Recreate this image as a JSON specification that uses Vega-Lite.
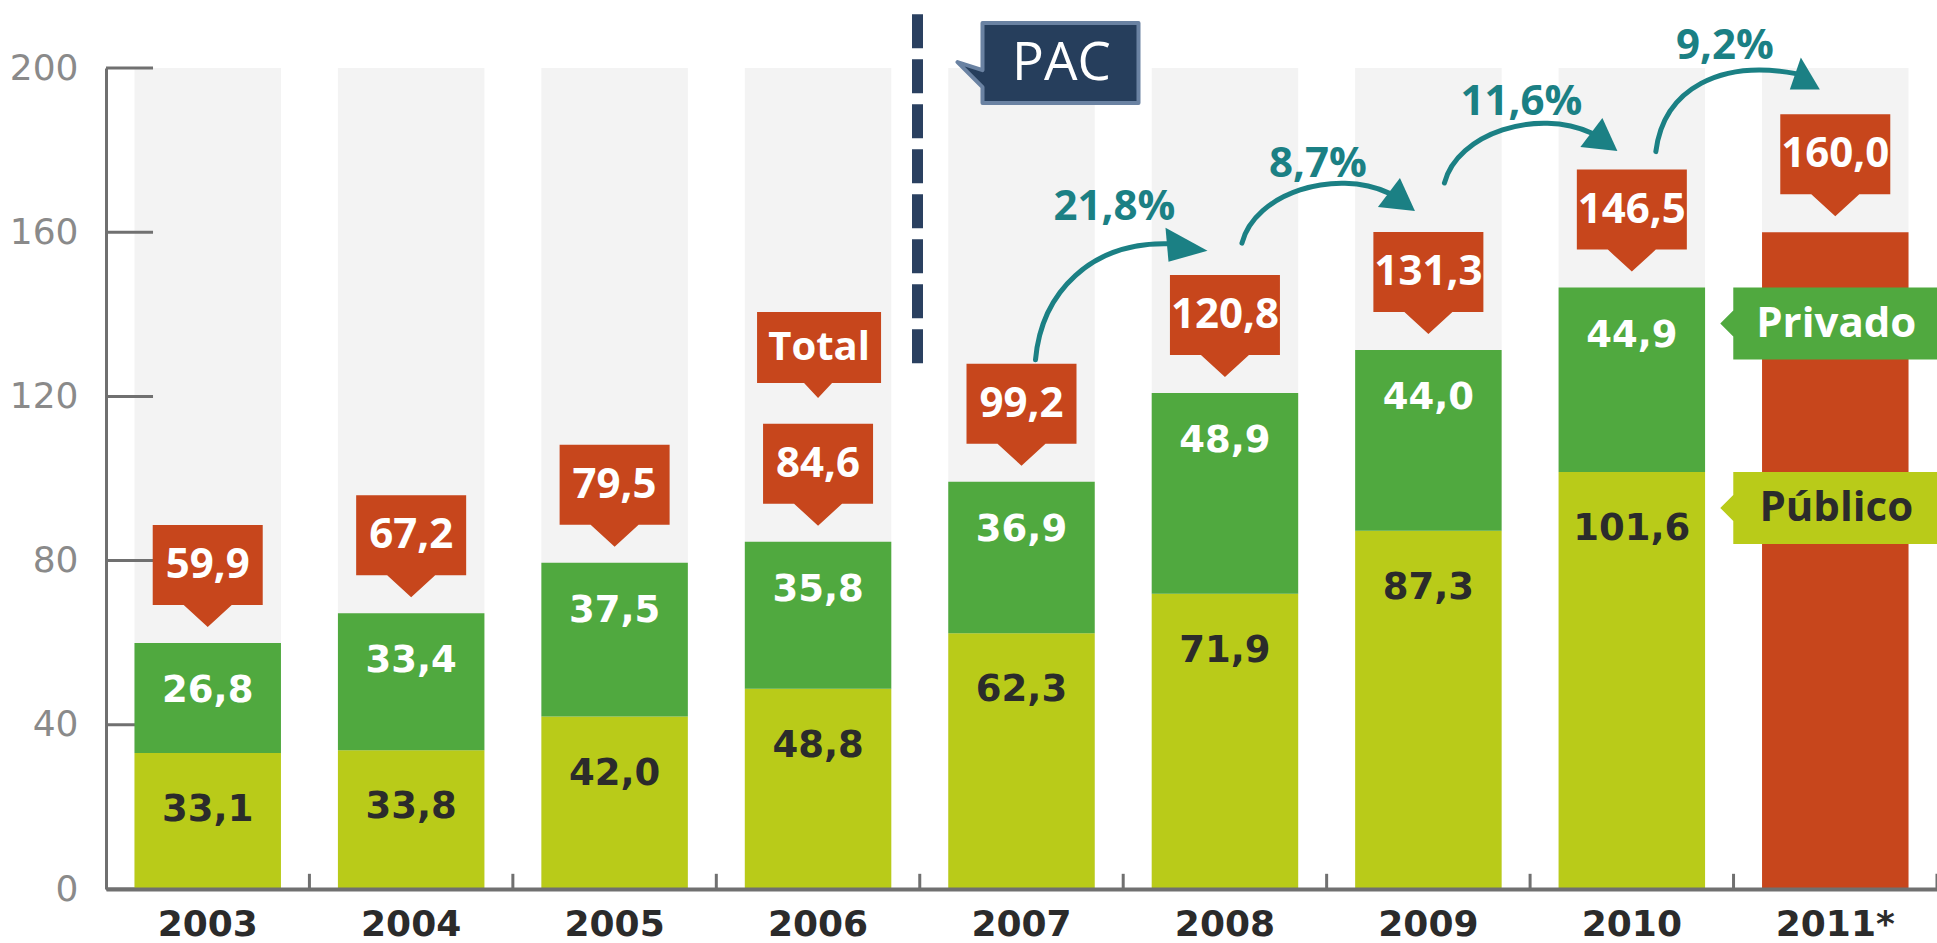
{
  "$schema": "https://vega.github.io/schema/vega-lite/v6.json",
  "width": 1831,
  "height": 821,
  "autosize": {"type": "none"},
  "padding": {"left": 106, "top": 68, "right": 0, "bottom": 54},
  "background": "#ffffff",
  "config": {
    "view": {"stroke": null},
    "locale": {"number": {"decimal": ",", "thousands": ".", "grouping": [3], "currency": ["", ""]}},
    "axis": {"grid": false, "title": null}
  },
  "datasets": {
    "segments": [
      {"year": "2003", "series": "Público", "value": 33.1},
      {"year": "2003", "series": "Privado", "value": 26.8},
      {"year": "2004", "series": "Público", "value": 33.8},
      {"year": "2004", "series": "Privado", "value": 33.4},
      {"year": "2005", "series": "Público", "value": 42.0},
      {"year": "2005", "series": "Privado", "value": 37.5},
      {"year": "2006", "series": "Público", "value": 48.8},
      {"year": "2006", "series": "Privado", "value": 35.8},
      {"year": "2007", "series": "Público", "value": 62.3},
      {"year": "2007", "series": "Privado", "value": 36.9},
      {"year": "2008", "series": "Público", "value": 71.9},
      {"year": "2008", "series": "Privado", "value": 48.9},
      {"year": "2009", "series": "Público", "value": 87.3},
      {"year": "2009", "series": "Privado", "value": 44.0},
      {"year": "2010", "series": "Público", "value": 101.6},
      {"year": "2010", "series": "Privado", "value": 44.9},
      {"year": "2011*", "series": "Total", "value": 160.0}
    ],
    "totals": [
      {"year": "2003", "total": 59.9},
      {"year": "2004", "total": 67.2},
      {"year": "2005", "total": 79.5},
      {"year": "2006", "total": 84.6},
      {"year": "2007", "total": 99.2},
      {"year": "2008", "total": 120.8},
      {"year": "2009", "total": 131.3},
      {"year": "2010", "total": 146.5},
      {"year": "2011*", "total": 160.0}
    ],
    "arrows": [
      {"from": "2007", "to": "2008", "fromTotal": 99.2, "toTotal": 120.8, "growth": 0.218},
      {"from": "2008", "to": "2009", "fromTotal": 120.8, "toTotal": 131.3, "growth": 0.087},
      {"from": "2009", "to": "2010", "fromTotal": 131.3, "toTotal": 146.5, "growth": 0.116},
      {"from": "2010", "to": "2011*", "fromTotal": 146.5, "toTotal": 160.0, "growth": 0.092}
    ],
    "notes": [
      {"label": "Total", "year": "2006", "level": 119.6},
      {"label": "PAC", "year": "2007", "level": 201.2}
    ],
    "divider": [
      {"year": "2007", "bottom": 128.1, "top": 213.6}
    ],
    "yticks": [
      {"tick": 0}, {"tick": 40}, {"tick": 80}, {"tick": 120}, {"tick": 160}, {"tick": 200}
    ]
  },
  "resolve": {"scale": {"shape": "independent"}},
  "layer": [
    {
      "data": {"name": "totals"},
      "mark": {"type": "bar", "color": "#f3f3f3"},
      "encoding": {
        "x": {
          "field": "year", "type": "nominal", "title": null,
          "scale": {"domain": ["2003", "2004", "2005", "2006", "2007", "2008", "2009", "2010", "2011*"], "paddingInner": 0.28, "paddingOuter": 0.14},
          "axis": {"zindex": 1, "ticks": false, "domainColor": "#707070", "domainWidth": 4, "labelFont": "DejaVu Sans", "labelFontWeight": "bold", "labelFontSize": 36, "labelColor": "#2b2b2b", "labelPadding": 35, "labelBaseline": "middle", "labelAngle": 0, "labelOverlap": false}
        },
        "y": {
          "datum": 200, "type": "quantitative", "title": null,
          "scale": {"domain": [0, 200], "nice": false, "zero": true},
          "axis": {"values": [0, 40, 80, 120, 160, 200], "ticks": false, "domainColor": "#707070", "domainWidth": 3, "labelFont": "DejaVu Sans", "labelFontSize": 36, "labelColor": "#8a8a8a", "labelPadding": 28}
        },
        "y2": {"datum": 0}
      }
    },
    {
      "data": {"name": "yticks"},
      "mark": {"type": "rule", "color": "#707070", "strokeWidth": 3, "xOffset": -101.7, "x2Offset": -54.7},
      "encoding": {
        "x": {"datum": "2003", "type": "nominal"},
        "x2": {"datum": "2003"},
        "y": {"field": "tick", "type": "quantitative"}
      }
    },
    {
      "data": {"name": "totals"},
      "mark": {"type": "rule", "color": "#707070", "strokeWidth": 3, "xOffset": 101.7},
      "encoding": {
        "x": {"field": "year", "type": "nominal"},
        "y": {"datum": 0, "type": "quantitative"},
        "y2": {"datum": 3.7}
      }
    },
    {
      "data": {"name": "segments"},
      "transform": [{"stack": "value", "groupby": ["year"], "sort": [{"field": "series", "order": "descending"}], "as": ["v0", "v1"]}],
      "mark": {"type": "bar"},
      "encoding": {
        "x": {"field": "year", "type": "nominal"},
        "y": {"field": "v1", "type": "quantitative"},
        "y2": {"field": "v0"},
        "color": {"field": "series", "type": "nominal", "scale": {"domain": ["Público", "Privado", "Total"], "range": ["#b9cb19", "#50a93f", "#c7461c"]}, "legend": null}
      }
    },
    {
      "data": {"name": "segments"},
      "transform": [
        {"stack": "value", "groupby": ["year"], "sort": [{"field": "series", "order": "descending"}], "as": ["v0", "v1"]},
        {"filter": "datum.series === 'Público'"}
      ],
      "mark": {"type": "text", "font": "DejaVu Sans", "fontWeight": "bold", "fontSize": 37, "baseline": "middle", "align": "center", "dy": 57, "color": "#2b2b2b"},
      "encoding": {
        "x": {"field": "year", "type": "nominal"},
        "y": {"field": "v1", "type": "quantitative"},
        "text": {"field": "value", "type": "quantitative", "format": ".1f"}
      }
    },
    {
      "data": {"name": "segments"},
      "transform": [
        {"stack": "value", "groupby": ["year"], "sort": [{"field": "series", "order": "descending"}], "as": ["v0", "v1"]},
        {"filter": "datum.series === 'Privado'"}
      ],
      "mark": {"type": "text", "font": "DejaVu Sans", "fontWeight": "bold", "fontSize": 37, "baseline": "middle", "align": "center", "dy": 48, "color": "#ffffff"},
      "encoding": {
        "x": {"field": "year", "type": "nominal"},
        "y": {"field": "v1", "type": "quantitative"},
        "text": {"field": "value", "type": "quantitative", "format": ".1f"}
      }
    },
    {
      "data": {"name": "totals"},
      "mark": {"type": "point", "shape": "M0,-16 L24,-38 L55,-38 L55,-118 L-55,-118 L-55,-38 L-24,-38 Z", "size": 4, "filled": true, "opacity": 1, "color": "#c7461c", "strokeWidth": 0},
      "encoding": {
        "x": {"field": "year", "type": "nominal"},
        "y": {"field": "total", "type": "quantitative"}
      }
    },
    {
      "data": {"name": "totals"},
      "mark": {"type": "text", "font": "Open Sans", "fontWeight": "bold", "fontSize": 42, "baseline": "middle", "align": "center", "dy": -78, "color": "#ffffff"},
      "encoding": {
        "x": {"field": "year", "type": "nominal"},
        "y": {"field": "total", "type": "quantitative"},
        "text": {"field": "total", "type": "quantitative", "format": ".1f"}
      }
    },
    {
      "data": {"name": "notes"},
      "transform": [{"filter": "datum.label === 'Total'"}],
      "mark": {"type": "point", "shape": "M0,0 L14,-15 L63,-15 L63,-86 L-61,-86 L-61,-15 L-14,-15 Z", "size": 4, "filled": true, "opacity": 1, "color": "#c7461c", "strokeWidth": 0},
      "encoding": {
        "x": {"field": "year", "type": "nominal"},
        "y": {"field": "level", "type": "quantitative"}
      }
    },
    {
      "data": {"name": "notes"},
      "transform": [{"filter": "datum.label === 'Total'"}],
      "mark": {"type": "text", "font": "Open Sans", "fontWeight": "bold", "fontSize": 40, "baseline": "middle", "align": "center", "dy": -50, "dx": 1, "color": "#ffffff"},
      "encoding": {
        "x": {"field": "year", "type": "nominal"},
        "y": {"field": "level", "type": "quantitative"},
        "text": {"field": "label", "type": "nominal"}
      }
    },
    {
      "data": {"name": "arrows"},
      "mark": {"type": "point", "size": 4, "filled": false, "opacity": 1, "color": "#1b8084", "strokeWidth": 5, "strokeCap": "round"},
      "encoding": {
        "x": {"field": "from", "type": "nominal"},
        "y": {"field": "fromTotal", "type": "quantitative"},
        "shape": {
          "field": "from", "type": "nominal", "legend": null,
          "scale": {
            "domain": ["2007", "2008", "2009", "2010"],
            "range": [
              "M14,-122 C20,-190 70,-240 147,-238",
              "M17,-150 C30,-200 110,-225 164,-200",
              "M16,-167 C29,-217 109,-242 163,-217",
              "M24,-136 C32,-200 90,-228 164,-214"
            ]
          }
        }
      }
    },
    {
      "data": {"name": "arrows"},
      "mark": {"type": "point", "size": 4, "filled": true, "opacity": 1, "color": "#1b8084", "strokeWidth": 0},
      "encoding": {
        "x": {"field": "from", "type": "nominal"},
        "y": {"field": "fromTotal", "type": "quantitative"},
        "shape": {
          "field": "from", "type": "nominal", "legend": null,
          "scale": {
            "domain": ["2007", "2008", "2009", "2010"],
            "range": [
              "M144,-254 L186,-231 L147,-220 Z",
              "M153,-186 L175,-215 L190,-182 Z",
              "M152,-203 L174,-232 L189,-199 Z",
              "M158,-198 L169,-230 L188,-198 Z"
            ]
          }
        }
      }
    },
    {
      "data": {"name": "arrows"},
      "mark": {"type": "text", "font": "Open Sans", "fontWeight": "bold", "fontSize": 42, "baseline": "middle", "align": "center", "dx": 93, "dy": -186, "color": "#1b8084"},
      "encoding": {
        "x": {"field": "from", "type": "nominal"},
        "y": {"field": "toTotal", "type": "quantitative"},
        "text": {"field": "growth", "type": "quantitative", "format": ".1%"}
      }
    },
    {
      "data": {"name": "segments"},
      "transform": [
        {"stack": "value", "groupby": ["year"], "sort": [{"field": "series", "order": "descending"}], "as": ["v0", "v1"]},
        {"filter": "datum.year === '2010'"}
      ],
      "mark": {"type": "point", "shape": "M-102,0 L112,0 L112,72 L-102,72 L-102,49 L-115,36 L-102,23 Z", "size": 4, "filled": true, "opacity": 1, "strokeWidth": 0},
      "encoding": {
        "x": {"datum": "2011*", "type": "nominal"},
        "y": {"field": "v1", "type": "quantitative"},
        "color": {"field": "series", "type": "nominal", "legend": null}
      }
    },
    {
      "data": {"name": "segments"},
      "transform": [
        {"stack": "value", "groupby": ["year"], "sort": [{"field": "series", "order": "descending"}], "as": ["v0", "v1"]},
        {"filter": "datum.year === '2010'"}
      ],
      "mark": {"type": "text", "font": "Open Sans", "fontWeight": "bold", "fontSize": 42, "baseline": "middle", "align": "center", "dx": 1, "dy": 36},
      "encoding": {
        "x": {"datum": "2011*", "type": "nominal"},
        "y": {"field": "v1", "type": "quantitative"},
        "text": {"field": "series", "type": "nominal"},
        "color": {"condition": {"test": "datum.series === 'Privado'", "value": "#ffffff"}, "value": "#2b2b2b"}
      }
    },
    {
      "data": {"name": "divider"},
      "mark": {"type": "rule", "color": "#2a4060", "strokeWidth": 11, "strokeDash": [34, 11], "xOffset": -104},
      "encoding": {
        "x": {"field": "year", "type": "nominal"},
        "y": {"field": "bottom", "type": "quantitative"},
        "y2": {"field": "top"}
      }
    },
    {
      "data": {"name": "notes"},
      "transform": [{"filter": "datum.label === 'PAC'"}],
      "mark": {"type": "point", "shape": "M-39,-40 L117,-40 L117,40 L-39,40 L-39,24 L-64,-1 L-39,7 Z", "size": 4, "filled": true, "opacity": 1, "fill": "#263e5c", "stroke": "#6a82a2", "strokeWidth": 4, "strokeJoin": "round"},
      "encoding": {
        "x": {"field": "year", "type": "nominal"},
        "y": {"field": "level", "type": "quantitative"}
      }
    },
    {
      "data": {"name": "notes"},
      "transform": [{"filter": "datum.label === 'PAC'"}],
      "mark": {"type": "text", "font": "Open Sans", "fontWeight": "normal", "fontSize": 53, "baseline": "middle", "align": "center", "dx": 40, "dy": 1, "color": "#ffffff"},
      "encoding": {
        "x": {"field": "year", "type": "nominal"},
        "y": {"field": "level", "type": "quantitative"},
        "text": {"field": "label", "type": "nominal"}
      }
    }
  ]
}
